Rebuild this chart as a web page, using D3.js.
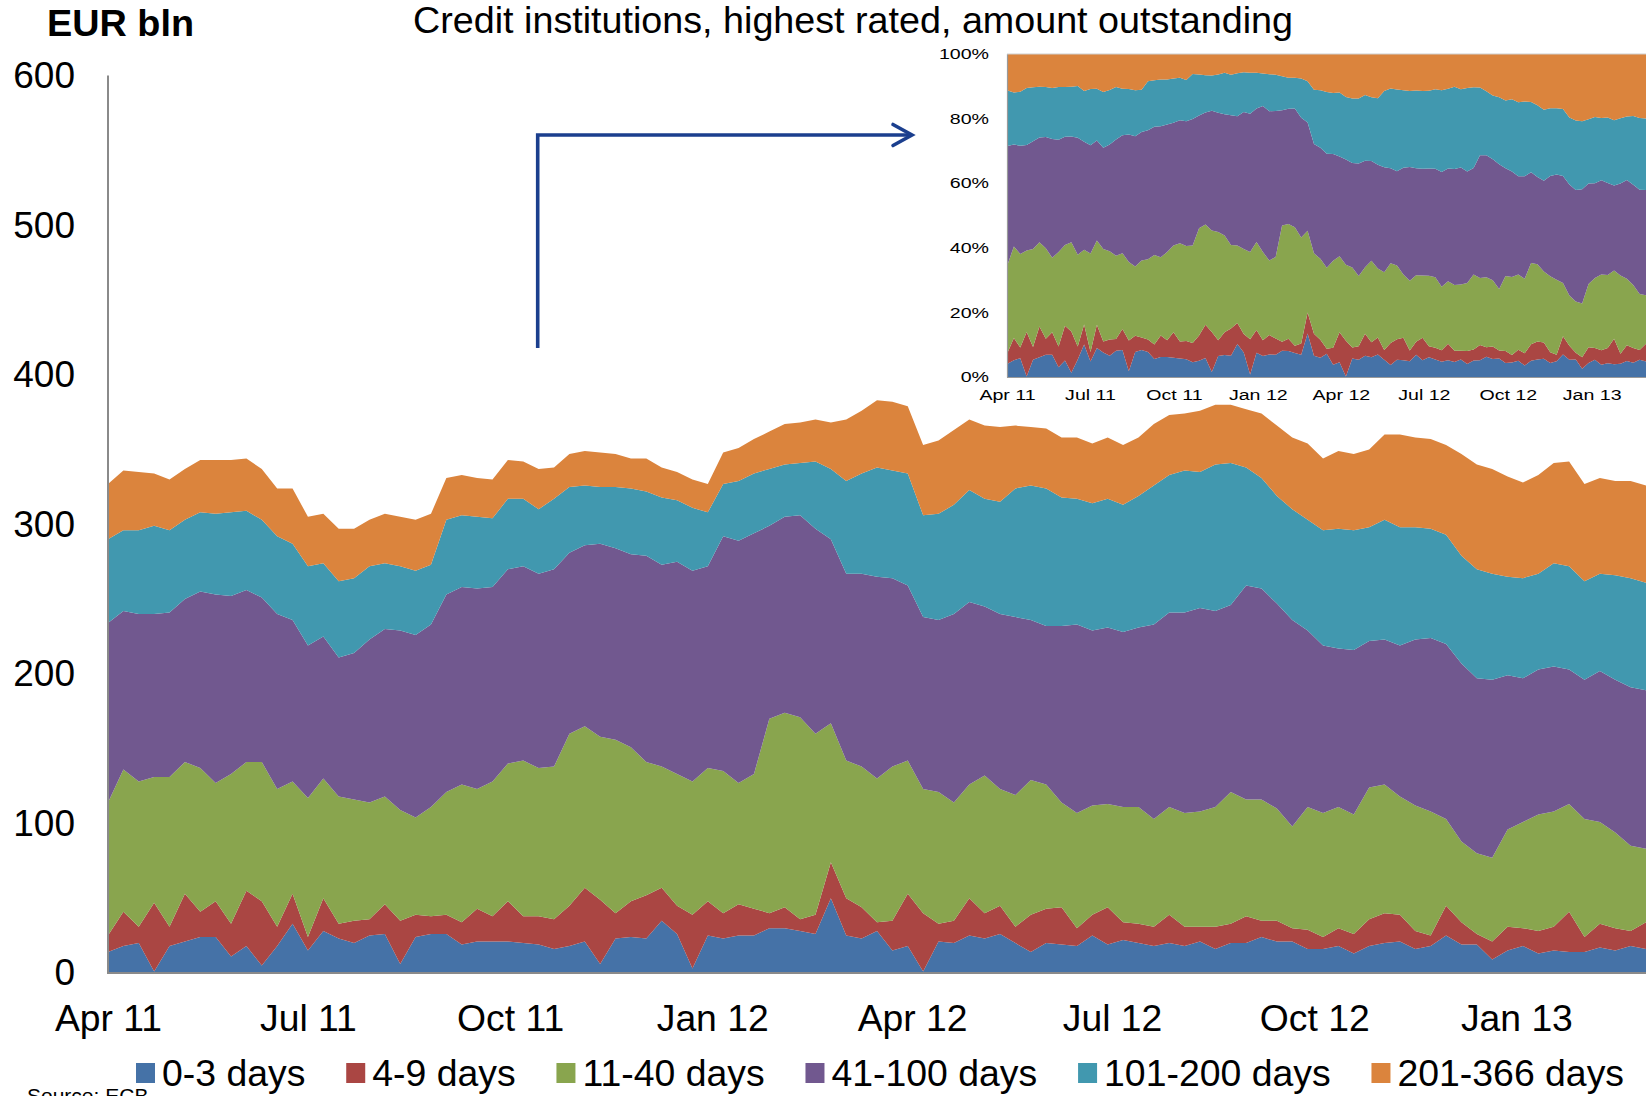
<!DOCTYPE html>
<html>
<head>
<meta charset="utf-8">
<script src="https://cdn.jsdelivr.net/npm/d3@7"></script>
<style>
  html, body { margin: 0; padding: 0; background: #ffffff; }
  svg { display: block; }
  text { font-family: "Liberation Sans", Arial, Helvetica, sans-serif; fill: #000; }
</style>
</head>
<body>
<svg id="chart" width="1646" height="1096"></svg>
<script>
// ---------------- DATA ----------------
const titleText = "Credit institutions, highest rated, amount outstanding";
const unitText = "EUR bln";
const sourceText = "Source: ECB";
const startDate = "2011-04-01";   // weekly observations
const endDate = "2013-03-01";
const seriesNames = ["0-3 days", "4-9 days", "11-40 days", "41-100 days", "101-200 days", "201-366 days"];
const seriesColors = ["#4572A7", "#AA4643", "#89A54E", "#71588F", "#4198AF", "#DB843D"];
const xTickLabels = ["Apr 11", "Jul 11", "Oct 11", "Jan 12", "Apr 12", "Jul 12", "Oct 12", "Jan 13"];
const yTicks = [0, 100, 200, 300, 400, 500, 600];
const insetYTicks = [0, 0.2, 0.4, 0.6, 0.8, 1];
const insetYLabels = ["0%", "20%", "40%", "60%", "80%", "100%"];

// EUR bln, weekly
const days0_3 = [14,18,20,1,18,21,24,24,11,18, 5,18,33,15,28,23,20,25,26,6,
  24,26,26,19,21,21,21,20,19,16, 18,21,6,23,24,23,35,26,3,25,
  23,25,25,30,30,28,26,50,25,23, 28,15,18,1,21,20,25,23,26,20,
  14,20,19,18,25,19,22,20,18,20, 18,21,16,20,20,24,21,21,16,16,
  18,13,18,20,21,16,18,25,19,19, 9,15,18,13,15,14,14,17,15,18, 16];
const days4_9 = [11,23,11,46,13,32,17,24,22,37, 43,13,20,9,22,10,15,11,20,29,
  15,12,13,15,22,17,27,18,19,20, 27,36,43,17,24,29,22,19,36,23,
  17,21,18,10,14,8,13,24,25,21, 6,20,35,39,12,15,25,17,19,11,
  25,23,25,12,14,25,12,13,13,19, 13,10,15,13,18,11,14,9,13,8,
  12,13,18,20,18,12,7,20,15,7, 12,16,12,15,16,27,10,16,15,10, 18];
const days11_40 = [89,95,97,84,100,88,96,79,100,86, 93,92,75,93,80,85,81,78,72,74,
  65,73,82,92,80,90,92,104,99,102, 115,108,109,116,103,89,81,88,89,89,
  95,81,90,130,130,135,121,93,92,94, 96,103,89,83,88,79,76,92,78,88,
  90,83,70,77,73,69,77,78,72,72, 76,77,80,88,78,81,75,68,82,83,
  81,80,88,86,79,84,83,58,54,54, 56,65,71,78,77,72,79,68,64,57, 49];
const days41_100 = [120,106,112,109,110,109,118,126,119,115, 110,117,108,102,95,93,98,109,112,120,
  122,122,132,132,134,130,130,130,130,132, 121,121,129,128,129,138,135,142,141,135,
  157,162,161,129,131,135,137,123,125,129, 135,126,117,115,115,126,122,113,117,119,
  107,106,118,126,117,118,117,120,130,130, 134,136,131,125,143,141,137,138,118,112,
  106,110,98,97,101,111,116,117,119,117, 119,103,96,97,97,90,93,101,102,106, 106];
const days101_200 = [56,54,56,59,55,53,53,54,56,53, 52,52,51,53,49,51,50,49,44,43,
  43,40,50,48,48,46,47,45,43,47, 44,40,38,41,44,43,45,41,42,36,
  35,40,40,38,35,35,45,47,62,67, 73,72,75,68,71,73,75,72,75,86,
  90,92,86,84,85,86,85,88,93,92, 95,91,98,95,79,74,72,74,74,77,
  80,80,76,80,79,75,73,73,72,73, 71,66,67,64,69,69,66,65,70,73, 72];
const days201_366 = [37,40,39,35,34,34,35,36,35,35, 34,32,37,33,33,35,33,31,33,33,
  34,34,28,27,26,26,26,25,27,21, 22,23,23,22,20,22,20,19,19,19,
  21,22,23,25,27,27,28,31,41,42, 45,46,45,47,49,50,47,49,50,42,
  39,40,40,41,40,41,40,39,41,40, 38,41,40,39,39,43,47,48,51,48,
  52,51,52,57,62,60,60,60,68,70, 70,67,64,66,67,70,65,64,63,65, 65];

// ---------------- BUILD TABLE ----------------
const parse = d3.timeParse("%Y-%m-%d");
const t0 = parse(startDate), t1 = parse(endDate);
const seriesArrays = [days0_3, days4_9, days11_40, days41_100, days101_200, days201_366];
const table = days0_3.map((_, i) => {
  const row = { date: d3.timeDay.offset(t0, 7 * i) };
  seriesNames.forEach((k, j) => row[k] = seriesArrays[j][i]);
  return row;
});
const tickDates = d3.timeMonth.range(t0, d3.timeDay.offset(parse("2013-01-01"), 1), 3);

const svg = d3.select("#chart");

// ---------------- MAIN CHART ----------------
const x = d3.scaleTime().domain([t0, t1]).range([108, 1646]);
const y = d3.scaleLinear().domain([0, 600]).range([973, 75.6]);

const stackAbs = d3.stack().keys(seriesNames)(table);
const areaAbs = d3.area()
  .x(d => x(d.data.date)).y0(d => y(d[0])).y1(d => y(d[1]))
  .curve(d3.curveLinear);

svg.append("g").selectAll("path").data(stackAbs).join("path")
  .attr("d", areaAbs)
  .attr("fill", (d, i) => seriesColors[i]);

// axis lines
svg.append("line").attr("x1", 108).attr("x2", 108).attr("y1", y(600)).attr("y2", y(0))
  .attr("stroke", "#8a8a8a").attr("stroke-width", 2);
svg.append("line").attr("x1", 107).attr("x2", 1646).attr("y1", y(0)).attr("y2", y(0))
  .attr("stroke", "#8a8a8a").attr("stroke-width", 2);

const yAxis = svg.append("g").attr("transform", "translate(108,0)")
  .call(d3.axisLeft(y).tickValues(yTicks).tickSize(0).tickPadding(33).tickFormat(d3.format("d")));
yAxis.select(".domain").remove();
yAxis.selectAll("text").attr("font-size", 37).attr("font-family", null).attr("fill", "#000");

const xAxis = svg.append("g").attr("transform", `translate(0,${y(0)})`)
  .call(d3.axisBottom(x).tickValues(tickDates).tickSize(0).tickPadding(32)
    .tickFormat((d, i) => xTickLabels[i]));
xAxis.select(".domain").remove();
xAxis.selectAll("text").attr("font-size", 37.3).attr("font-family", null).attr("fill", "#000");

// ---------------- TITLE / UNIT ----------------
svg.append("text").attr("x", 853).attr("y", 33).attr("text-anchor", "middle")
  .attr("font-size", 37.7).text(titleText);
svg.append("text").attr("x", 47).attr("y", 36).attr("font-size", 37.8)
  .attr("font-weight", "bold").text(unitText);

// ---------------- INSET (percent) ----------------
const xi = d3.scaleTime().domain([t0, t1]).range([1007.5, 1646]);
const yi = d3.scaleLinear().domain([0, 1]).range([377.5, 54]);
const stackPct = d3.stack().keys(seriesNames).offset(d3.stackOffsetExpand)(table);
const areaPct = d3.area()
  .x(d => xi(d.data.date)).y0(d => yi(d[0])).y1(d => yi(d[1]))
  .curve(d3.curveLinear);
const inset = svg.append("g");
inset.selectAll("path").data(stackPct).join("path")
  .attr("d", areaPct).attr("fill", (d, i) => seriesColors[i]);
inset.append("line").attr("x1", 1007.5).attr("x2", 1007.5).attr("y1", yi(1)).attr("y2", yi(0))
  .attr("stroke", "#9a9a9a").attr("stroke-width", 1.2);
inset.append("line").attr("x1", 1007).attr("x2", 1646).attr("y1", yi(0)).attr("y2", yi(0))
  .attr("stroke", "#9a9a9a").attr("stroke-width", 1.2);
inset.append("line").attr("x1", 1007).attr("x2", 1646).attr("y1", yi(1)).attr("y2", yi(1))
  .attr("stroke", "#cfcfcf").attr("stroke-width", 1);

inset.selectAll("text.iy").data(insetYTicks).join("text").attr("class", "iy")
  .attr("transform", d => `translate(989,${yi(d)}) scale(1.4,1)`)
  .attr("text-anchor", "end").attr("dy", "0.35em").attr("font-size", 14)
  .text((d, i) => insetYLabels[i]);
inset.selectAll("text.ix").data(tickDates).join("text").attr("class", "ix")
  .attr("transform", d => `translate(${xi(d)},400) scale(1.4,1)`)
  .attr("text-anchor", "middle").attr("font-size", 14)
  .text((d, i) => xTickLabels[i]);

// ---------------- ARROW ----------------
svg.append("path").attr("d", "M537.7,348 V135 H911")
  .attr("fill", "none").attr("stroke", "#1B3F8E").attr("stroke-width", 3.6)
  .attr("stroke-linejoin", "miter");
svg.append("path").attr("d", "M893,124.5 L912,135 L893,145.5")
  .attr("fill", "none").attr("stroke", "#1B3F8E").attr("stroke-width", 3.6)
  .attr("stroke-linecap", "round").attr("stroke-linejoin", "miter");

// ---------------- LEGEND ----------------
const legend = svg.append("g");
let lx = 136;
seriesNames.forEach((name, i) => {
  legend.append("rect").attr("x", lx).attr("y", 1063).attr("width", 19).attr("height", 20)
    .attr("fill", seriesColors[i]);
  const t = legend.append("text").attr("x", lx + 26).attr("y", 1086).attr("font-size", 37.4).text(name);
  lx += 26 + t.node().getComputedTextLength() + 40.8;
});

svg.append("text").attr("x", 27).attr("y", 1103).attr("font-size", 21).text(sourceText);
</script>
</body>
</html>
